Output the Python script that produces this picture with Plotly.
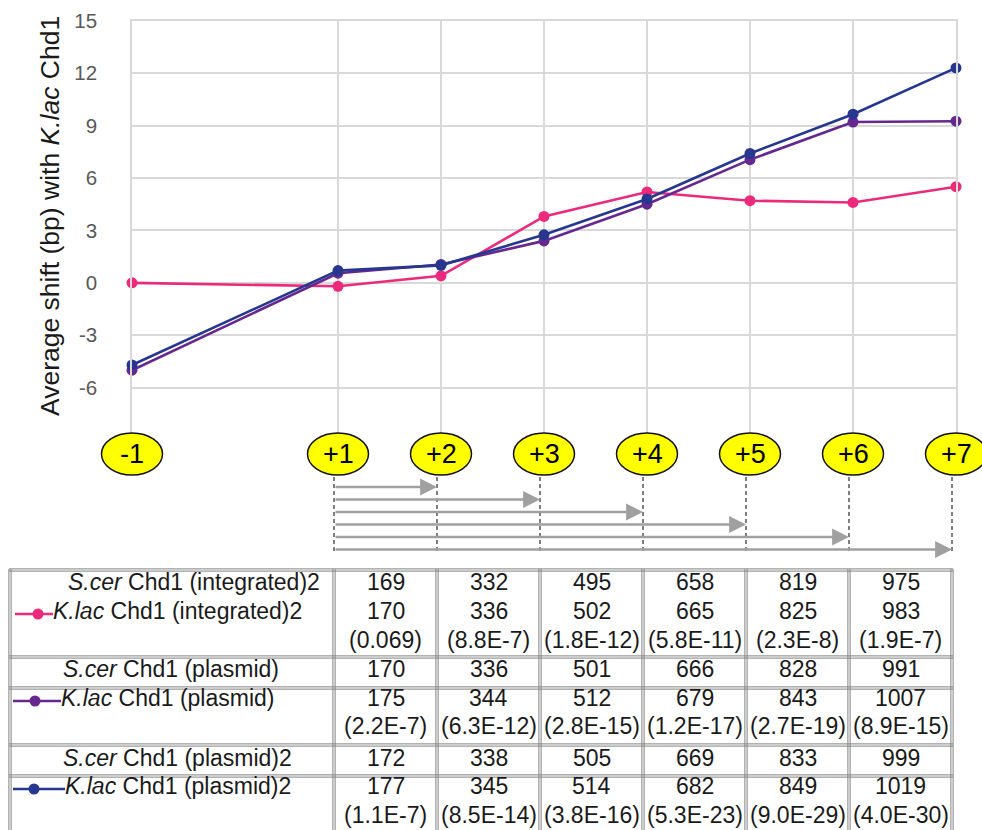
import plotly.graph_objects as go

W, H = 982, 830
FONT = "Liberation Sans, Arial, Helvetica, sans-serif"

# ---- nucleosome positions and average shifts ----
positions = [-1, 1, 2, 3, 4, 5, 6, 7]
position_labels = ["-1", "+1", "+2", "+3", "+4", "+5", "+6", "+7"]

shift_integrated2 = [0.0, -0.2, 0.4, 3.8, 5.2, 4.7, 4.6, 5.5]
shift_plasmid = [-5.0, 0.55, 1.05, 2.4, 4.5, 7.05, 9.2, 9.25]
shift_plasmid2 = [-4.7, 0.7, 1.0, 2.75, 4.8, 7.4, 9.65, 12.3]

y_ticks = [-6, -3, 0, 3, 6, 9, 12, 15]

series_names = ["K.lac Chd1 (integrated)2", "K.lac Chd1 (plasmid)", "K.lac Chd1 (plasmid)2"]
series_colors = ["#EC2A7B", "#66288F", "#27378F"]

# ---- spacing table: +1 to +2 ... +1 to +7 (bp) with p-values ----
scer_integrated2 = ["169", "332", "495", "658", "819", "975"]
klac_integrated2 = ["170", "336", "502", "665", "825", "983"]
p_integrated2 = ["(0.069)", "(8.8E-7)", "(1.8E-12)", "(5.8E-11)", "(2.3E-8)", "(1.9E-7)"]
scer_plasmid = ["170", "336", "501", "666", "828", "991"]
klac_plasmid = ["175", "344", "512", "679", "843", "1007"]
p_plasmid = ["(2.2E-7)", "(6.3E-12)", "(2.8E-15)", "(1.2E-17)", "(2.7E-19)", "(8.9E-15)"]
scer_plasmid2 = ["172", "338", "505", "669", "833", "999"]
klac_plasmid2 = ["177", "345", "514", "682", "849", "1019"]
p_plasmid2 = ["(1.1E-7)", "(8.5E-14)", "(3.8E-16)", "(5.3E-23)", "(9.0E-29)", "(4.0E-30)"]

# ---- page geometry (pixels) ----
X_RANGE = (-1, 7)
PLOT_LEFT, PLOT_RIGHT = 132, 956
PLOT_TOP, PLOT_BOTTOM = 20.7, 440.1
Y_RANGE = (-9, 15)
LOWER_SHIFT = -4  # schematic and table sit slightly left of the chart grid


def x_px(v):
    return PLOT_LEFT + (v - X_RANGE[0]) / (X_RANGE[1] - X_RANGE[0]) * (PLOT_RIGHT - PLOT_LEFT)


def px(xp):
    return xp / W


def py(yp):
    return 1 - yp / H


fig = go.Figure()

for name, vals, col in zip(series_names, [shift_integrated2, shift_plasmid, shift_plasmid2], series_colors):
    fig.add_trace(go.Scatter(
        x=positions, y=vals, mode="lines+markers", name=name,
        line=dict(color=col, width=2.6),
        marker=dict(color=col, size=11),
        cliponaxis=False, showlegend=False,
    ))

shapes = []
annotations = []

# y axis title
annotations.append(dict(
    text="Average shift (bp) with <i>K.lac</i> Chd1", textangle=-90,
    xref="paper", yref="paper", x=px(50), y=py(216), showarrow=False,
    xanchor="center", yanchor="middle",
    font=dict(family=FONT, size=26.5, color="#1a1a1a"),
))

# yellow nucleosome ovals
ELL_TOP, ELL_BOT = 433, 475
for p, lab in zip(positions, position_labels):
    cx = x_px(p)
    shapes.append(dict(type="circle", xref="paper", yref="paper",
                       x0=px(cx - 30.5), x1=px(cx + 30.5), y0=py(ELL_BOT), y1=py(ELL_TOP),
                       fillcolor="#FFFF00", line=dict(color="#111111", width=1.5), layer="above"))
    annotations.append(dict(text=lab, xref="paper", yref="paper", x=px(cx), y=py(454),
                            showarrow=False, font=dict(family=FONT, size=27, color="#000000"),
                            xanchor="center", yanchor="middle"))

# dashed drop lines and spacing arrows from +1
lower_x = {p: x_px(p) + LOWER_SHIFT for p in positions}
for p in positions[1:]:
    shapes.append(dict(type="line", xref="paper", yref="paper",
                       x0=px(lower_x[p]), x1=px(lower_x[p]), y0=py(477), y1=py(552),
                       line=dict(color="#555555", width=1.5, dash="4px,3px")))

arrow_rows = [487, 499.5, 512, 524.5, 537, 549.5]
for p, yrow in zip(positions[2:], arrow_rows):
    annotations.append(dict(
        text="", xref="paper", yref="paper", x=px(lower_x[p]), y=py(yrow),
        ax=-(lower_x[p] - lower_x[1]), ay=0, axref="pixel", ayref="pixel",
        showarrow=True, arrowhead=2, arrowsize=1.3, arrowwidth=2.6,
        arrowcolor="#A0A0A0", standoff=0, startstandoff=0,
    ))

# table grid (double rules)
TABLE_LEFT = 10
TABLE_TOP = 570
row_rules = [570, 657, 688, 745, 776, 832]
col_rules = [TABLE_LEFT] + [lower_x[p] for p in positions[1:]]
TABLE_RIGHT = col_rules[-1]
TABLE_BOTTOM = 832
GRID_COL = "#808080"
for yr in row_rules:
    for off in (-1.1, 1.1):
        shapes.append(dict(type="line", xref="paper", yref="paper",
                           x0=px(TABLE_LEFT - 1), x1=px(TABLE_RIGHT + 1),
                           y0=py(yr + off), y1=py(yr + off),
                           line=dict(color=GRID_COL, width=1)))
for xr in col_rules:
    for off in (-1.1, 1.1):
        shapes.append(dict(type="line", xref="paper", yref="paper",
                           x0=px(xr + off), x1=px(xr + off),
                           y0=py(TABLE_TOP - 1), y1=py(TABLE_BOTTOM),
                           line=dict(color=GRID_COL, width=1)))

col_centers = [(col_rules[i] + col_rules[i + 1]) / 2 for i in range(1, len(col_rules) - 1)]
table_rows = [
    (scer_integrated2, 582), (klac_integrated2, 610.5), (p_integrated2, 639.5),
    (scer_plasmid, 669), (klac_plasmid, 697.5), (p_plasmid, 725.5),
    (scer_plasmid2, 758), (klac_plasmid2, 786), (p_plasmid2, 814.5),
]
TFONT = dict(family=FONT, size=23, color="#1a1a1a")
for vals, yrow in table_rows:
    for cx, v in zip(col_centers, vals):
        annotations.append(dict(text=v, xref="paper", yref="paper", x=px(cx), y=py(yrow),
                                showarrow=False, font=TFONT, xanchor="center", yanchor="middle"))

row_labels = [
    ("<i>S.cer</i> Chd1 (integrated)2", 66, 582),
    ("<i>K.lac</i> Chd1 (integrated)2", 51, 610.5),
    ("<i>S.cer</i> Chd1 (plasmid)", 61, 669),
    ("<i>K.lac</i> Chd1 (plasmid)", 59, 697.5),
    ("<i>S.cer</i> Chd1 (plasmid)2", 61, 758),
    ("<i>K.lac</i> Chd1 (plasmid)2", 63, 786),
]
for txt, xl, yrow in row_labels:
    annotations.append(dict(text=txt, xref="paper", yref="paper", x=px(xl), y=py(yrow),
                            showarrow=False, font=TFONT, xanchor="left", yanchor="middle"))

# series keys inside the table
legend_keys = [(15, 53, 38, 614), (13, 61, 35, 701), (13, 65, 34, 789)]
for (x0, x1, cx, yk), col in zip(legend_keys, series_colors):
    shapes.append(dict(type="line", xref="paper", yref="paper",
                       x0=px(x0), x1=px(x1), y0=py(yk), y1=py(yk),
                       line=dict(color=col, width=2.6)))
    shapes.append(dict(type="circle", xref="paper", yref="paper",
                       x0=px(cx - 5.5), x1=px(cx + 5.5), y0=py(yk + 5.5), y1=py(yk - 5.5),
                       fillcolor=col, line=dict(color=col, width=0)))

GRID = "#D9D9D9"
fig.update_layout(
    width=W, height=H,
    margin=dict(l=0, r=0, t=0, b=0, autoexpand=False),
    paper_bgcolor="white", plot_bgcolor="white",
    xaxis=dict(
        domain=[px(PLOT_LEFT), px(PLOT_RIGHT)], range=list(X_RANGE),
        tickvals=positions, showticklabels=False, ticks="",
        showgrid=True, gridcolor=GRID, gridwidth=1.5, zeroline=False,
        showline=True, linecolor=GRID, linewidth=1.5, side="top", mirror=False,
        fixedrange=True, automargin=False,
    ),
    yaxis=dict(
        domain=[py(PLOT_BOTTOM), py(PLOT_TOP)], range=list(Y_RANGE),
        tickvals=y_ticks, ticktext=[str(t) for t in y_ticks], ticks="",
        tickfont=dict(family=FONT, size=20.5, color="#595959"),
        ticklabelstandoff=29,
        showgrid=True, gridcolor=GRID, gridwidth=1.5, zeroline=False,
        showline=True, linecolor=GRID, linewidth=1.5, mirror=True,
        fixedrange=True, automargin=False,
    ),
    shapes=shapes,
    annotations=annotations,
    showlegend=False,
)

fig.write_html("out.html")
